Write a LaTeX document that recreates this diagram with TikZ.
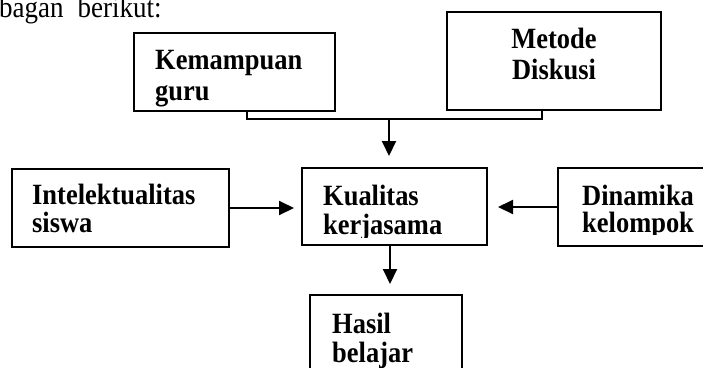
\documentclass[tikz,border=0pt]{standalone}
\usepackage{fontspec}
\setmainfont{Liberation Serif}[FakeStretch=0.9]
\usetikzlibrary{arrows.meta}
\tikzset{
  box/.style={draw, line width=2pt, inner sep=0pt},
  lbl/.style={inner sep=0pt, anchor=base west, font=\fontsize{29.4}{30}\selectfont\bfseries},
  lblc/.style={lbl, anchor=base},
  plain/.style={inner sep=0pt, anchor=base west, font=\fontsize{30}{30}\selectfont},
  conn/.style={line width=2pt},
  arr/.style={line width=2pt, -{Triangle[length=15pt,width=14pt]}}
}
\begin{document}
\begin{tikzpicture}[x=1pt,y=-1pt]
\useasboundingbox (0,0) rectangle (703,367);
\clip (0,0) rectangle (703,367);
% top text
\node[plain] (intro) at (-1,17) {bagan\hspace{14pt}berikut:};
% boxes
\node[box, minimum width=201pt, minimum height=78pt] (k) at (234.5,72) {};
\node[box, minimum width=214pt, minimum height=98pt] (m) at (554,61) {};
\node[box, minimum width=217pt, minimum height=78pt] (i) at (120.5,208) {};
\node[box, minimum width=185pt, minimum height=77pt] (q) at (394.5,206.5) {};
\node[box, minimum width=152pt, minimum height=78pt] (d) at (634,207) {};
\node[box, minimum width=152pt, minimum height=105pt] (h) at (386,347.5) {};
% labels
\node[lbl] (k1) at (155,69) {Kemampuan};
\node[lbl] (k2) at (155,100) {guru};
\node[lblc] (m1) at (554,48) {Metode};
\node[lblc] (m2) at (554,79) {Diskusi};
\node[lbl] (i1) at (32,204) {Intelektualitas};
\node[lbl] (i2) at (32,232) {siswa};
\node[lbl] (q1) at (323,205) {Kualitas};
\begin{scope}
\clip (303,169) rectangle (486,237);
\node[lbl] (q2) at (323,234) {kerjasama};
\end{scope}
\node[lbl] (d1) at (582,205) {Dinamika};
\begin{scope}
\clip (559,169) rectangle (703,234);
\node[lbl] (d2) at (582,232) {kelompok};
\end{scope}
\node[lbl] (h1) at (332,333) {Hasil};
\node[lbl] (h2) at (332,362) {belajar};
% connectors
\coordinate (kx) at (247,0);
\coordinate (mx) at (542,0);
\coordinate (j) at (389,119);
\coordinate (hx) at (390,0);
\draw[conn] (kx |- k.south) |- (j) -| (mx |- m.south);
\draw[arr, shorten >=11pt] (j) -- (j |- q.north);
\draw[arr, shorten >=7pt] (i.east) -- (i.east -| q.west);
\draw[arr, shorten >=10pt] (d.west) -- (d.west -| q.east);
\draw[arr, shorten >=10pt] (hx |- q.south) -- (hx |- h.north);
\end{tikzpicture}
\end{document}
